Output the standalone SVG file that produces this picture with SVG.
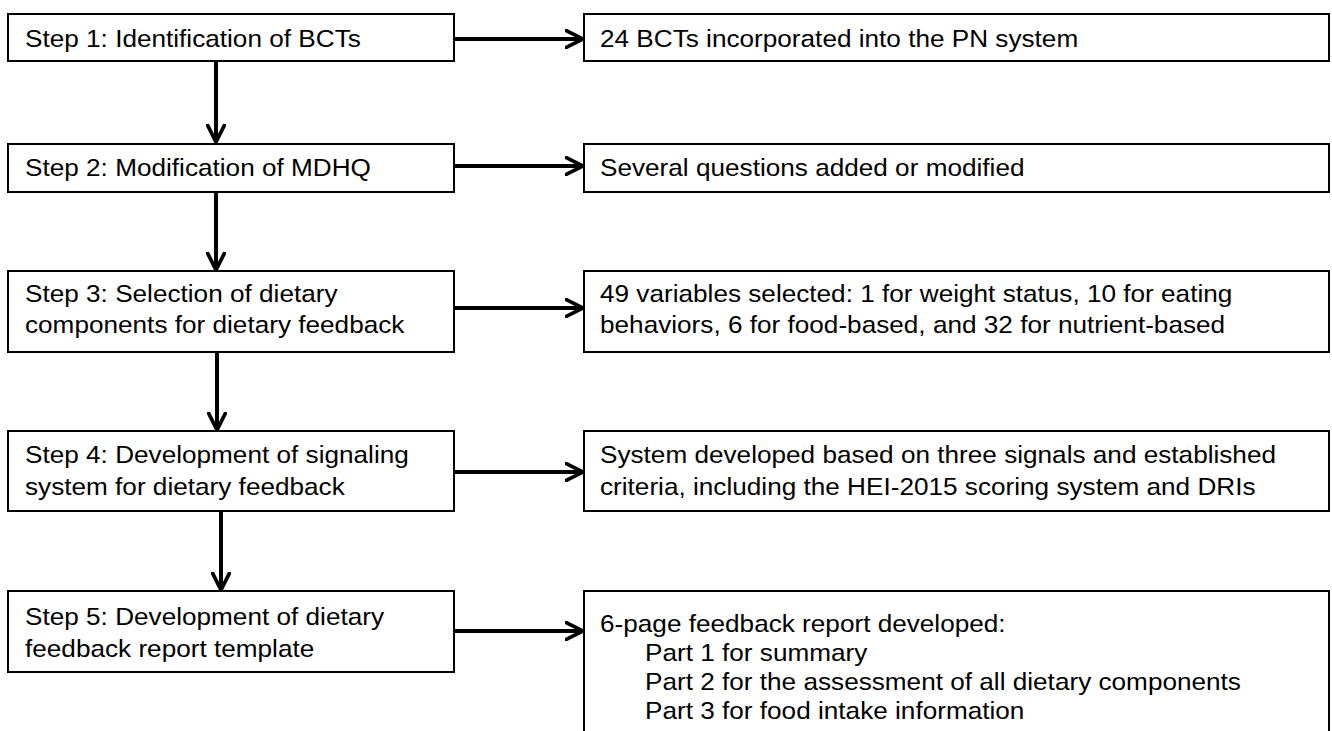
<svg xmlns="http://www.w3.org/2000/svg" width="1332" height="731" viewBox="0 0 1332 731">
<defs>
<marker id="ah" viewBox="0 0 12 12" refX="11" refY="6" markerWidth="5" markerHeight="5" markerUnits="strokeWidth" orient="auto">
<path d="M1,1 L11,6 L1,11" fill="none" stroke="#000" stroke-width="2.2" stroke-linecap="round" stroke-linejoin="miter"/>
</marker>
<style>
.box{fill:#fff;stroke:#000;stroke-width:2}
.t{font-family:"Liberation Sans",Arial,sans-serif;font-size:24px;fill:#000}
.con{stroke:#000;stroke-width:4;fill:none;marker-end:url(#ah)}
</style>
</defs>
<rect width="1332" height="731" fill="#fff"/>
<g id="connectors">
<line class="con" x1="454" y1="39" x2="583" y2="39"/>
<line class="con" x1="454" y1="166" x2="583" y2="166"/>
<line class="con" x1="454" y1="308" x2="583" y2="308"/>
<line class="con" x1="454" y1="472" x2="583" y2="472"/>
<line class="con" x1="454" y1="631" x2="583" y2="631"/>
<line class="con" x1="216" y1="61" x2="216" y2="142"/>
<line class="con" x1="216" y1="192" x2="216" y2="270"/>
<line class="con" x1="217" y1="352" x2="217" y2="430"/>
<line class="con" x1="221" y1="511" x2="221" y2="590"/>
</g>
<g id="step1">
<rect class="box" x="8" y="14" width="446" height="47"/>
<text class="t" transform="translate(25,47) scale(1.09,1)">Step 1: Identification of BCTs</text>
</g>
<g id="step2">
<rect class="box" x="8" y="144" width="446" height="48"/>
<text class="t" transform="translate(25,176) scale(1.09,1)">Step 2: Modification of MDHQ</text>
</g>
<g id="step3">
<rect class="box" x="8" y="271" width="446" height="81"/>
<text class="t" transform="translate(25,302) scale(1.09,1)">Step 3: Selection of dietary</text>
<text class="t" transform="translate(25,333) scale(1.09,1)">components for dietary feedback</text>
</g>
<g id="step4">
<rect class="box" x="8" y="431" width="446" height="80"/>
<text class="t" transform="translate(25,463) scale(1.09,1)">Step 4: Development of signaling</text>
<text class="t" transform="translate(25,495) scale(1.09,1)">system for dietary feedback</text>
</g>
<g id="step5">
<rect class="box" x="8" y="591" width="446" height="81"/>
<text class="t" transform="translate(25,625) scale(1.09,1)">Step 5: Development of dietary</text>
<text class="t" transform="translate(25,657) scale(1.09,1)">feedback report template</text>
</g>
<g id="result1">
<rect class="box" x="584" y="14" width="745" height="47"/>
<text class="t" transform="translate(600,47) scale(1.09,1)">24 BCTs incorporated into the PN system</text>
</g>
<g id="result2">
<rect class="box" x="584" y="144" width="745" height="48"/>
<text class="t" transform="translate(600,176) scale(1.09,1)">Several questions added or modified</text>
</g>
<g id="result3">
<rect class="box" x="584" y="271" width="745" height="81"/>
<text class="t" transform="translate(600,302) scale(1.09,1)">49 variables selected: 1 for weight status, 10 for eating</text>
<text class="t" transform="translate(600,333) scale(1.09,1)">behaviors, 6 for food-based, and 32 for nutrient-based</text>
</g>
<g id="result4">
<rect class="box" x="584" y="431" width="745" height="80"/>
<text class="t" transform="translate(600,463) scale(1.09,1)">System developed based on three signals and established</text>
<text class="t" transform="translate(600,495) scale(1.09,1)">criteria, including the HEI-2015 scoring system and DRIs</text>
</g>
<g id="result5">
<rect class="box" x="584" y="591" width="745" height="200"/>
<text class="t" transform="translate(600,632) scale(1.09,1)">6-page feedback report developed:</text>
<text class="t" transform="translate(645,661) scale(1.09,1)">Part 1 for summary</text>
<text class="t" transform="translate(645,690) scale(1.09,1)">Part 2 for the assessment of all dietary components</text>
<text class="t" transform="translate(645,719) scale(1.09,1)">Part 3 for food intake information</text>
</g>
</svg>
